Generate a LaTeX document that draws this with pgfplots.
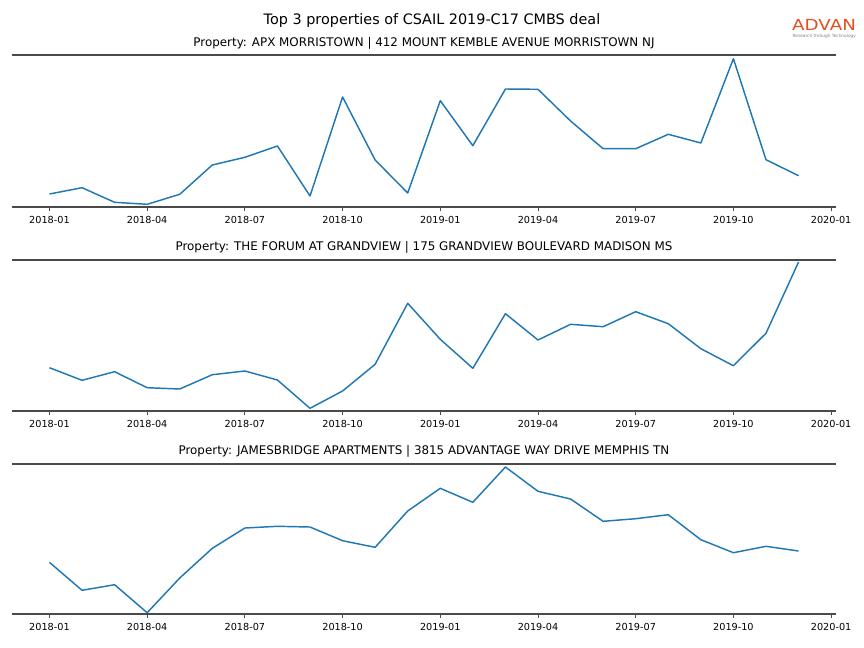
\documentclass[border=0pt]{standalone}
\usepackage{fontspec}
\setmainfont{DejaVu Sans}
\usepackage{graphicx}
\usepackage{pgfplots}
\pgfplotsset{compat=1.18}
\definecolor{mplblue}{HTML}{1F77B4}
\definecolor{spine}{HTML}{4A4A4A}
\definecolor{advan}{HTML}{E2501E}
\pgfplotsset{
  panel/.style={
    anchor=south west,
    width=595.5pt,
    scale only axis,
    xmin=-1.15, xmax=24.15,
    ymin=0,
    xtick={0,3,6,9,12,15,18,21,24},
    xticklabels={2018-01,2018-04,2018-07,2018-10,2019-01,2019-04,2019-07,2019-10,2020-01},
    xtick pos=lower,
    tick align=outside,
    ytick=\empty,
    major tick length=2.9pt,
    every tick/.style={spine, line width=0.6pt},
    tick label style={font=\fontsize{7}{8}\selectfont, text=black},
    xticklabel style={yshift=-0.3pt},
    /pgf/number format/assume math mode=true,
    separate axis lines,
    x axis line style={spine, line width=1.5pt},
    y axis line style={draw=none},
    clip=false,
  },
  series/.style={mplblue, line width=1.05pt, no marks, line join=round},
}
\begin{document}
\begin{tikzpicture}
\path[use as bounding box] (0,0) rectangle (624.4pt,-468.3pt);

\node[anchor=base, font=\fontsize{10.4}{12}\selectfont] at (312.2pt,-17.4pt) {Top 3 properties of CSAIL 2019-C17 CMBS deal};
\node[anchor=base, font=\fontsize{8.6}{10}\selectfont] at (306.4pt,-33.25pt) {Property: APX MORRISTOWN | 412 MOUNT KEMBLE AVENUE MORRISTOWN NJ};
\node[anchor=base, font=\fontsize{8.6}{10}\selectfont] at (306.4pt,-180.7pt) {Property: THE FORUM AT GRANDVIEW | 175 GRANDVIEW BOULEVARD MADISON MS};
\node[anchor=base, font=\fontsize{8.6}{10}\selectfont] at (306.4pt,-328.1pt) {Property: JAMESBRIDGE APARTMENTS | 3815 ADVANTAGE WAY DRIVE MEMPHIS TN};

% logo
\node[anchor=base west, inner sep=0pt, text=advan, font=\fontsize{11}{12}\selectfont] at (572.3pt,-22.4pt) {\scalebox{1.2}[1]{ADVAN}};
\node[anchor=base west, inner sep=0pt, text=gray, font=\fontsize{3.1}{3.5}\selectfont] at (572.6pt,-27.4pt) {Research through Technology};

% Panel 1
\begin{axis}[panel, at={(8.67pt,-149.38pt)}, height=109.85pt, ymax=152]
\addplot[series] coordinates {
(0,12.7) (1,19.0) (2,4.4) (3,2.4) (4,12.4) (5,41.7) (6,49.4) (7,60.7)
(8,10.7) (9,109.7) (10,46.7) (11,13.7) (12,106.0) (13,61.0) (14,117.7) (15,117.4)
(16,85.7) (17,58.0) (18,58.0) (19,72.4) (20,63.7) (21,148.0) (22,47.0) (23,31.0)};
\end{axis}

% Panel 2
\begin{axis}[panel, at={(8.67pt,-296.81pt)}, height=109.13pt, ymax=151]
\addplot[series] coordinates {
(0,43.0) (1,30.4) (2,39.0) (3,23.0) (4,21.7) (5,36.0) (6,39.7) (7,30.7)
(8,2.4) (9,19.7) (10,46.4) (11,107.4) (12,71.4) (13,42.4) (14,97.0) (15,70.7)
(16,86.4) (17,84.0) (18,99.0) (19,87.0) (20,62.0) (21,45.0) (22,77.4) (23,148.7)};
\end{axis}

% Panel 3
\begin{axis}[panel, at={(8.67pt,-443.52pt)}, height=108.19pt, ymax=149.7]
\addplot[series] coordinates {
(0,51.4) (1,23.4) (2,29.0) (3,1.0) (4,35.7) (5,65.4) (6,85.7) (7,87.4)
(8,86.7) (9,73.0) (10,66.4) (11,102.7) (12,125.4) (13,111.4) (14,146.7) (15,122.4)
(16,114.7) (17,92.4) (18,95.0) (19,99.0) (20,74.0) (21,61.0) (22,67.4) (23,62.7)};
\end{axis}
\end{tikzpicture}
\end{document}
